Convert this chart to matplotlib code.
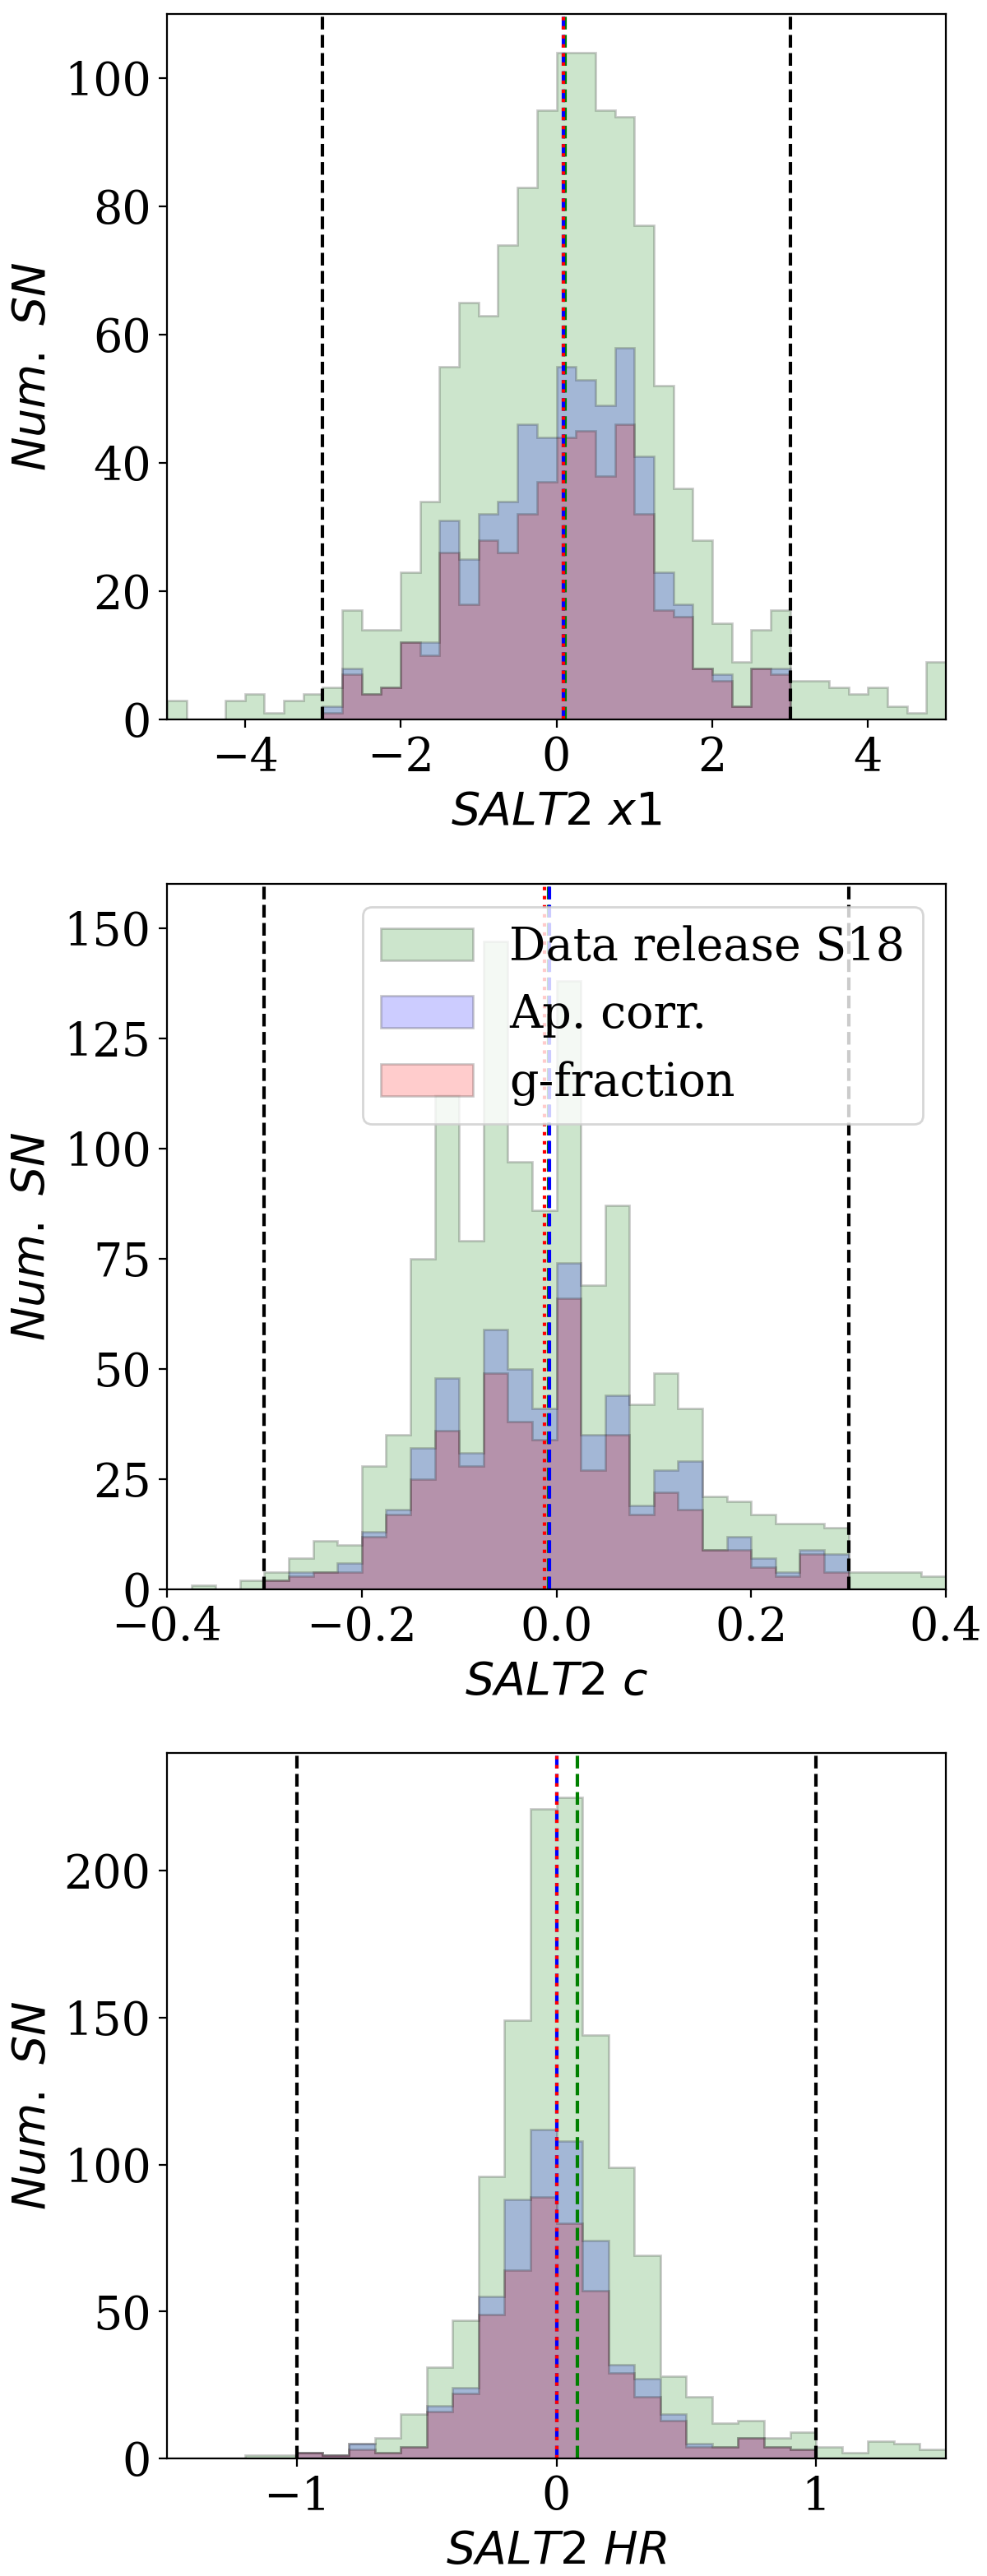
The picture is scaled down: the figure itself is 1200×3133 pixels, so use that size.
import numpy as np
import matplotlib
matplotlib.use("Agg")
import matplotlib.pyplot as plt

plt.rcParams['font.family'] = ['DejaVu Serif']
plt.rcParams['mathtext.fontset'] = 'dejavusans'
plt.rcParams['mathtext.default'] = 'it'
plt.rcParams['font.size'] = 20

# ---------------- Panel 1: SALT2 x1 (bins of 0.25 from -5 to 5) ----------------
x1_edges = np.arange(-5.0, 5.0001, 0.25)
x1_data = [3, 0, 0, 3, 4, 1, 3, 4, 5, 17, 14, 14, 23, 34, 55, 65, 63, 74, 83, 95,
           104, 104, 95, 94, 77, 52, 36, 28, 15, 9, 14, 17, 6, 6, 5, 4, 5, 2, 1, 9]
x1_apcorr = [0, 0, 0, 0, 0, 0, 0, 0, 2, 8, 4, 5, 12, 12, 31, 25, 32, 34, 46, 44,
             55, 53, 49, 58, 41, 23, 18, 8, 7, 2, 8, 8, 0, 0, 0, 0, 0, 0, 0, 0]
x1_gfrac = [0, 0, 0, 0, 0, 0, 0, 0, 1, 7, 4, 5, 12, 10, 26, 18, 28, 26, 32, 37,
            44, 45, 38, 46, 32, 17, 16, 8, 6, 2, 8, 7, 0, 0, 0, 0, 0, 0, 0, 0]
x1_cuts = [-3.0, 3.0]
x1_means = {'data': 0.110, 'apcorr': 0.085, 'gfrac': 0.085}

# ---------------- Panel 2: SALT2 c (bins of 0.025 from -0.4 to 0.4) ----------------
c_edges = np.arange(-0.4, 0.40001, 0.025)
c_data = [0, 1, 0, 2, 4, 7, 11, 10, 28, 35, 75, 112, 79, 147, 97, 86,
          138, 69, 87, 42, 49, 41, 21, 20, 17, 15, 15, 14, 4, 4, 4, 3]
c_apcorr = [0, 0, 0, 0, 2, 4, 4, 6, 13, 18, 32, 48, 31, 59, 50, 41,
            74, 35, 44, 19, 27, 29, 9, 12, 7, 4, 9, 8, 0, 0, 0, 0]
c_gfrac = [0, 0, 0, 0, 2, 3, 4, 4, 12, 17, 25, 36, 28, 49, 38, 34,
           66, 27, 35, 17, 22, 18, 9, 9, 5, 3, 8, 4, 0, 0, 0, 0]
c_cuts = [-0.3, 0.3]
c_means = {'data': -0.008, 'apcorr': -0.007, 'gfrac': -0.012}

# ---------------- Panel 3: SALT2 HR (bins of 0.1 from -1.5 to 1.5) ----------------
hr_edges = np.arange(-1.5, 1.50001, 0.1)
hr_data = [0, 0, 0, 1, 1, 2, 1, 5, 7, 15, 31, 47, 96, 149, 221,
           225, 144, 99, 69, 28, 21, 12, 13, 7, 9, 4, 2, 6, 5, 3]
hr_apcorr = [0, 0, 0, 0, 0, 2, 1, 5, 2, 4, 18, 24, 55, 88, 112,
             108, 74, 32, 27, 15, 5, 4, 7, 4, 3, 0, 0, 0, 0, 0]
hr_gfrac = [0, 0, 0, 0, 0, 2, 1, 3, 2, 4, 16, 22, 49, 64, 89,
            80, 57, 29, 21, 13, 4, 4, 7, 4, 3, 0, 0, 0, 0, 0]
hr_cuts = [-1.0, 1.0]
hr_means = {'data': 0.08, 'apcorr': 0.0, 'gfrac': 0.0}

labels = ['Data release S18', 'Ap. corr.', 'g-fraction']
colors = ['g', 'b', 'r']

panels = [
    dict(edges=x1_edges, series=[x1_data, x1_apcorr, x1_gfrac], cuts=x1_cuts,
         means=x1_means, xlim=(-5, 5), ylim=(0, 110), xticks=[-4, -2, 0, 2, 4],
         yticks=[0, 20, 40, 60, 80, 100], xlabel=r'$SALT2\ x1$', legend=False),
    dict(edges=c_edges, series=[c_data, c_apcorr, c_gfrac], cuts=c_cuts,
         means=c_means, xlim=(-0.4, 0.4), ylim=(0, 160),
         xticks=[-0.4, -0.2, 0.0, 0.2, 0.4], yticks=[0, 25, 50, 75, 100, 125, 150],
         xlabel=r'$SALT2\ c$', legend=True),
    dict(edges=hr_edges, series=[hr_data, hr_apcorr, hr_gfrac], cuts=hr_cuts,
         means=hr_means, xlim=(-1.5, 1.5), ylim=(0, 240), xticks=[-1, 0, 1],
         yticks=[0, 50, 100, 150, 200], xlabel=r'$SALT2\ HR$', legend=False),
]

W, H = 1200, 3133
fig = plt.figure(figsize=(W / 200, H / 200), dpi=200)

left, right = 203, 1150
tops = [17, 1075, 2132]
height = 858

for p, top in zip(panels, tops):
    ax = fig.add_axes([left / W, 1 - (top + height) / H, (right - left) / W, height / H])
    centers = 0.5 * (p['edges'][:-1] + p['edges'][1:])
    for vals, col, lab in zip(p['series'], colors, labels):
        ax.hist(centers, bins=p['edges'], weights=vals, histtype='stepfilled',
                facecolor=col, edgecolor='k', alpha=0.2, linewidth=1.0, label=lab)
    for cx in p['cuts']:
        ax.axvline(cx, color='k', ls='--', lw=1.5)
    ax.axvline(p['means']['data'], color='g', ls='--', lw=1.5)
    ax.axvline(p['means']['apcorr'], color='b', ls='--', lw=1.5)
    ax.axvline(p['means']['gfrac'], color='r', ls=':', lw=1.5)
    ax.set_xlim(*p['xlim'])
    ax.set_ylim(*p['ylim'])
    ax.set_xticks(p['xticks'])
    ax.set_yticks(p['yticks'])
    ax.set_xlabel(p['xlabel'])
    ax.set_ylabel(r'$Num.\ SN$')
    if p['legend']:
        ax.legend(loc='upper right')

fig.savefig('out.png', dpi=200)
